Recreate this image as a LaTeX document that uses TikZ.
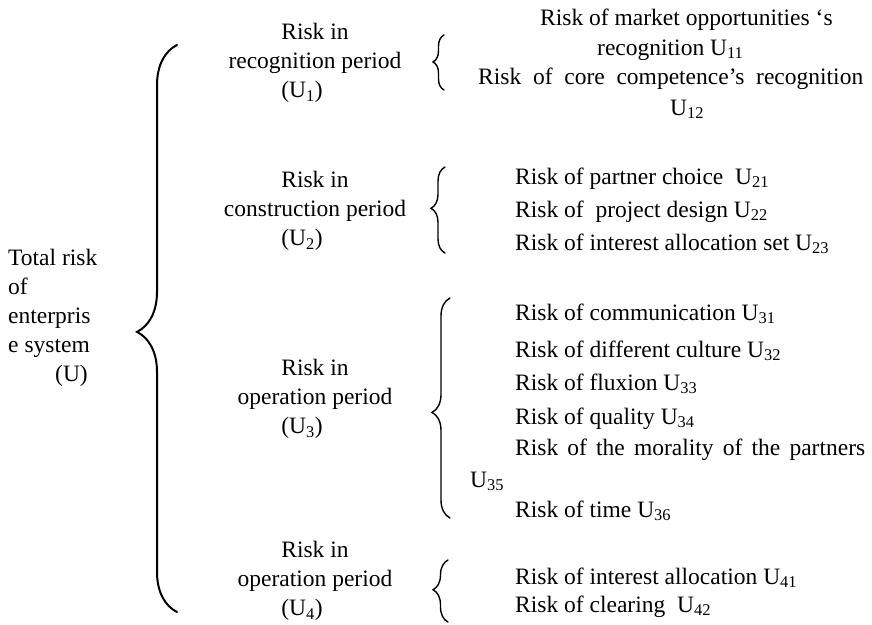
\documentclass[tikz,border=0pt]{standalone}
\usepackage{fontspec}
\setmainfont{Liberation Serif}
\usetikzlibrary{decorations.pathreplacing}

\begin{document}
\begin{tikzpicture}[x=1pt,y=-1pt,
  txt/.style={inner sep=0pt,font=\fontsize{23.5}{29}\selectfont},
  riskitem/.style={txt,anchor=base west},
  periodlabel/.style={txt,anchor=north,align=center},
  bracepath/.style={decorate,line width=1.4pt,line cap=round}]
  \useasboundingbox (0,0) rectangle (872,624);

  % left: the whole system
  \node[txt,anchor=north west,align=left] (root) at (8,249)
    {Total risk\\of\\enterpris\\e system\\\hspace*{47pt}(U)};

  % the four periods
  \node[periodlabel] (p1) at (315,23) {Risk in\\recognition period\\(U\textsubscript{1})\hspace*{26pt}\null};
  \node[periodlabel] (p2) at (315,171) {Risk in\\construction period\\(U\textsubscript{2})\hspace*{26pt}\null};
  \node[periodlabel] (p3) at (315,359) {Risk in\\operation period\\(U\textsubscript{3})\hspace*{26pt}\null};
  \node[periodlabel] (p4) at (315,541) {Risk in\\operation period\\(U\textsubscript{4})\hspace*{26pt}\null};

  % risks of period 1
  \node[riskitem] (u11) at (540,25) {Risk of market opportunities `s};
  \node[riskitem] (u11b) at (597,55) {recognition U\textsubscript{11}};
  \node[riskitem] (u12) at (478,84) {\makebox[385pt][s]{Risk of core competence's recognition}};
  \node[riskitem] (u12b) at (670,115) {U\textsubscript{12}};

  % risks of period 2
  \node[riskitem] (u21) at (515,184) {Risk of partner choice\ \ U\textsubscript{21}};
  \node[riskitem] (u22) at (515,217) {Risk of\ \ project design U\textsubscript{22}};
  \node[riskitem] (u23) at (515,250) {Risk of interest allocation set U\textsubscript{23}};

  % risks of period 3
  \node[riskitem] (u31) at (515,320) {Risk of communication U\textsubscript{31}};
  \node[riskitem] (u32) at (515,357) {Risk of different culture U\textsubscript{32}};
  \node[riskitem] (u33) at (515,390) {Risk of fluxion U\textsubscript{33}};
  \node[riskitem] (u34) at (515,424) {Risk of quality U\textsubscript{34}};
  \node[riskitem] (u35) at (515,455) {\makebox[350pt][s]{Risk of the morality of the partners}};
  \node[riskitem] (u35b) at (470,487) {U\textsubscript{35}};
  \node[riskitem] (u36) at (515,517) {Risk of time U\textsubscript{36}};

  % risks of period 4
  \node[riskitem] (u41) at (515,584) {Risk of interest allocation U\textsubscript{41}};
  \node[riskitem] (u42) at (515,612) {Risk of clearing\ \ U\textsubscript{42}};

  % brace ends
  \coordinate (b0top) at (177,45);  \coordinate (b0bot) at (177,612);
  \coordinate (b1top) at (444,35);  \coordinate (b1bot) at (444,90);
  \coordinate (b2top) at (445,167); \coordinate (b2bot) at (445,253);
  \coordinate (b3top) at (450,298); \coordinate (b3bot) at (450,518);
  \coordinate (b4top) at (448,560); \coordinate (b4bot) at (448,622);

  \draw[bracepath,line width=2pt,decoration={brace,amplitude=40pt,aspect=0.494}] (b0bot) -- (b0top);
  \draw[bracepath,decoration={brace,amplitude=11pt,aspect=0.51}] (b1bot) -- (b1top);
  \draw[bracepath,decoration={brace,amplitude=14pt,aspect=0.52}] (b2bot) -- (b2top);
  \draw[bracepath,decoration={brace,amplitude=18pt,aspect=0.48}] (b3bot) -- (b3top);
  \draw[bracepath,decoration={brace,amplitude=15pt,aspect=0.52}] (b4bot) -- (b4top);
\end{tikzpicture}
\end{document}
